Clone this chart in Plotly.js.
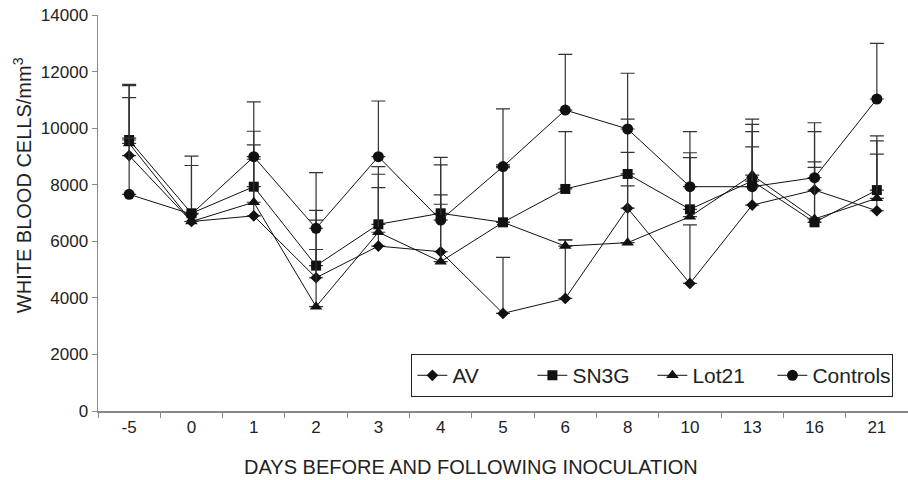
<!DOCTYPE html>
<html>
<head>
<meta charset="utf-8">
<script src="https://cdn.plot.ly/plotly-3.0.1.min.js"></script>
<style>html,body{margin:0;padding:0;background:#fff;}#chart{width:908px;height:480px;}</style>
</head>
<body>
<div id="chart"></div>
<script>
// Days (categories)
var days = ['-5', '0', '1', '2', '3', '4', '5', '6', '8', '10', '13', '16', '21'];

// Mean white blood cell counts per group
var av       = [9030, 6700, 6900, 4710, 5830, 5630, 3450, 3980, 7170, 4510, 7280, 7810, 7080];
var sn3g     = [9580, 6990, 7930, 5140, 6600, 6990, 6670, 7850, 8380, 7130, 8130, 6670, 7810];
var lot21    = [9460, 6700, 7380, 3690, 6320, 5280, 6670, 5830, 5950, 6870, 8340, 6790, 7520];
var controls = [7660, 6960, 8990, 6460, 8990, 6750, 8640, 10640, 9970, 7930, 7930, 8250, 11030];

// Upper error (SD) per group
var avErr       = [2050, 0, 2000, 2380, 2070, 2010, 1980, 2070, 1970, 2070, 2060, 1000, 2000];
var sn3gErr     = [1970, 1690, 1960, 1610, 2040, 1980, 2030, 2030, 1940, 2000, 2000, 1940, 1920];
var lot21Err    = [2040, 0, 2030, 2020, 2050, 2030, 1930, 220, 2010, 2090, 1980, 3090, 2030];
var controlsErr = [1990, 2050, 1940, 1970, 1970, 1950, 2040, 1970, 1970, 1950, 1950, 1940, 1970];

var names = ['AV', 'SN3G', 'Lot21', 'Controls'];
var symbols = ['diamond', 'square', 'triangle-up', 'circle'];
var sizes = [9, 10, 11, 11];
var seriesVals = [av, sn3g, lot21, controls];
var seriesErr = [avErr, sn3gErr, lot21Err, controlsErr];

var traces = seriesVals.map(function (vals, i) {
  return {
    x: days,
    y: vals,
    name: names[i],
    type: 'scatter',
    mode: 'lines+markers',
    line: {color: '#111', width: 1},
    marker: {symbol: symbols[i], size: sizes[i], color: '#111'},
    error_y: {
      type: 'data', symmetric: false,
      array: seriesErr[i],
      arrayminus: seriesErr[i].map(function () { return 0; }),
      color: '#333', thickness: 1.2, width: 7
    }
  };
});

var fontFam = '"Liberation Sans", Arial, sans-serif';
var layout = {
  width: 908, height: 480,
  margin: {l: 98, r: 0, t: 15, b: 69},
  paper_bgcolor: '#fff', plot_bgcolor: '#fff',
  font: {family: fontFam, color: '#222', size: 17},
  showlegend: true,
  xaxis: {
    type: 'category',
    range: [-0.5, 12.5],
    showgrid: false, zeroline: false,
    showline: true, linecolor: '#888', linewidth: 1.5,
    ticks: 'outside', tickson: 'boundaries', ticklen: 5, tickcolor: '#888',
    tickfont: {size: 17, color: '#222'}
  },
  yaxis: {
    range: [0, 14000], dtick: 2000, tickformat: 'd',
    showgrid: false, zeroline: false,
    showline: true, linecolor: '#888', linewidth: 1.5,
    ticks: 'outside', ticklen: 5, tickcolor: '#888',
    tickfont: {size: 17, color: '#222'}
  },
  legend: {
    orientation: 'h',
    x: 0.982, xanchor: 'right',
    y: 0.035, yanchor: 'bottom',
    bgcolor: '#fff', bordercolor: '#222', borderwidth: 1,
    font: {size: 21, color: '#222'},
    entrywidth: 75, entrywidthmode: 'pixels',
    traceorder: 'normal'
  },
  annotations: [
    {
      text: 'DAYS BEFORE AND FOLLOWING INOCULATION',
      xref: 'paper', yref: 'paper', x: 0.46, y: -0.141,
      xanchor: 'center', yanchor: 'middle', showarrow: false,
      font: {size: 20, color: '#222'}
    },
    {
      text: 'WHITE BLOOD CELLS/mm<sup>3</sup>',
      xref: 'paper', yref: 'paper', x: -0.094, y: 0.57,
      xanchor: 'center', yanchor: 'middle', showarrow: false,
      textangle: -90,
      font: {size: 20, color: '#222'}
    }
  ]
};

Plotly.newPlot('chart', traces, layout, {displayModeBar: false, staticPlot: true});
</script>
</body>
</html>
